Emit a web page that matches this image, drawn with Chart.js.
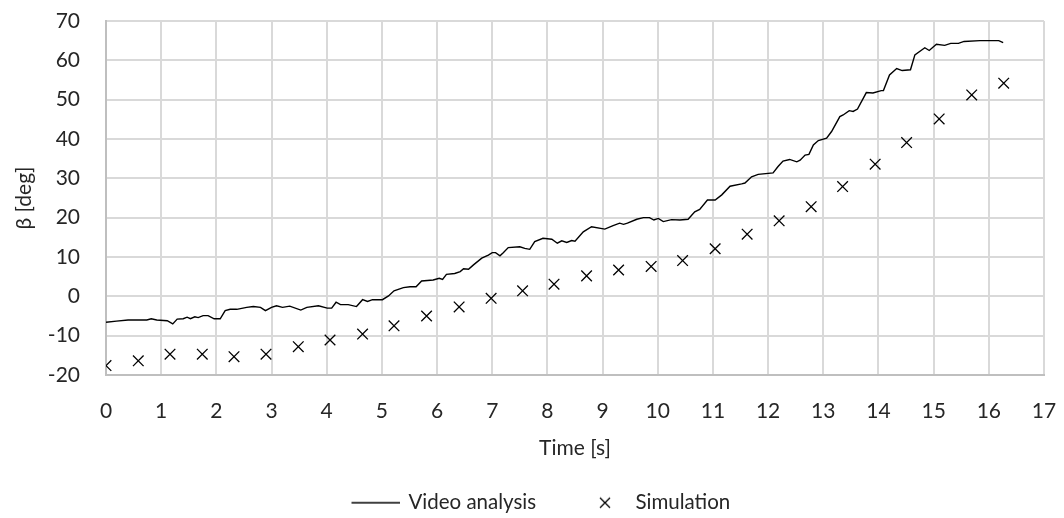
<!DOCTYPE html>
<html>
<head>
<meta charset="utf-8">
<script src="https://cdn.jsdelivr.net/npm/chart.js@4.4.1/dist/chart.umd.min.js"></script>
<style>
  html, body { margin: 0; padding: 0; background: #ffffff; }
  #wrap { width: 1064px; height: 518px; position: relative; }
</style>
</head>
<body>
<div id="wrap"><canvas id="chart" width="1064" height="518"></canvas></div>
<script>
// Measured pendulum angle from the video, time in seconds
const videoTime = [
  0, 0.19, 0.4, 0.74, 0.82, 0.92, 1.11, 1.21, 1.29, 1.4, 1.47, 1.53, 1.61, 1.67,
  1.76, 1.85, 1.96, 2.07, 2.16, 2.25, 2.37, 2.55, 2.67, 2.8, 2.89, 3.0, 3.09, 3.2,
  3.33, 3.53, 3.64, 3.85, 4.01, 4.09, 4.17, 4.25, 4.39, 4.54, 4.65, 4.74, 4.83,
  5.01, 5.12, 5.22, 5.39, 5.51, 5.62, 5.72, 5.93, 6.04, 6.1, 6.17, 6.32, 6.42,
  6.48, 6.57, 6.66, 6.81, 6.93, 7.0, 7.06, 7.14, 7.2, 7.29, 7.5, 7.59, 7.68, 7.77,
  7.92, 8.08, 8.18, 8.26, 8.35, 8.44, 8.5, 8.65, 8.8, 9.04, 9.19, 9.31, 9.38, 9.45,
  9.62, 9.74, 9.85, 9.93, 10.01, 10.1, 10.25, 10.4, 10.55, 10.67, 10.76, 10.9,
  11.04, 11.16, 11.31, 11.52, 11.58, 11.7, 11.82, 12.09, 12.18, 12.27, 12.39,
  12.52, 12.58, 12.67, 12.74, 12.82, 12.91, 13.06, 13.15, 13.3, 13.36, 13.47,
  13.54, 13.62, 13.78, 13.9, 14.05, 14.09, 14.2, 14.33, 14.43, 14.58, 14.66,
  14.84, 14.92, 15.05, 15.2, 15.31, 15.45, 15.55, 15.84, 16.08, 16.18, 16.26
];
const videoAngle = [
  -6.6, -6.3, -6.0, -6.0, -5.7, -6.0, -6.2, -7.0, -5.8, -5.7, -5.3, -5.7, -5.2, -5.4,
  -4.9, -4.9, -5.7, -5.7, -3.65, -3.3, -3.3, -2.8, -2.6, -2.8, -3.65, -2.8, -2.4, -2.8,
  -2.5, -3.5, -2.8, -2.4, -3.0, -3.0, -1.5, -2.1, -2.1, -2.6, -0.85, -1.3, -0.85,
  -0.85, 0.1, 1.4, 2.2, 2.45, 2.45, 3.9, 4.15, 4.6, 4.3, 5.6, 5.8, 6.3,
  7.0, 6.9, 8.0, 9.7, 10.5, 11.1, 11.1, 10.3, 11.1, 12.4, 12.6, 12.2, 11.95, 13.9,
  14.75, 14.5, 13.5, 14.1, 13.7, 14.2, 14.0, 16.4, 17.7, 17.1, 18.0, 18.6, 18.3, 18.6,
  19.6, 20.0, 20.0, 19.4, 19.8, 19.0, 19.5, 19.4, 19.6, 21.5, 22.1, 24.5,
  24.5, 25.8, 28.0, 28.6, 28.8, 30.4, 31.0, 31.4, 33.0, 34.4, 34.8,
  34.2, 34.6, 35.9, 36.1, 38.5, 39.6, 40.2, 41.9, 45.7, 46.1, 47.2,
  47.0, 47.6, 51.8, 51.7, 52.3, 52.3, 56.3, 57.9, 57.4, 57.6, 61.4,
  63.2, 62.5, 64.1, 63.8, 64.3, 64.3, 64.8, 65.0, 65.0, 65.0, 64.5
];

// Simulated angle at the sampled instants
const simTime = [
  0, 0.585, 1.16, 1.745, 2.32, 2.9, 3.485, 4.06, 4.65, 5.22, 5.81, 6.4, 6.98, 7.55,
  8.12, 8.71, 9.29, 9.88, 10.45, 11.04, 11.62, 12.2, 12.78, 13.35, 13.94, 14.51,
  15.1, 15.69, 16.27
];
const simAngle = [
  -17.6, -16.4, -14.7, -14.7, -15.35, -14.7, -12.8, -11.1, -9.6, -7.5, -5.0, -2.7,
  -0.5, 1.4, 3.1, 5.2, 6.7, 7.6, 9.1, 12.1, 15.8, 19.2, 22.8, 27.9, 33.6, 39.1,
  45.1, 51.2, 54.2
];

const seriesNames = ['Video analysis', 'Simulation'];
const xTitle = 'Time [s]';
const yTitle = 'β [deg]';

const FONT = 'Lato, "Open Sans", "Liberation Sans", sans-serif';
const TEXT = '#262626';
const GRID = '#d9d9d9';
const AXIS = '#bfbfbf';

// Legend symbols. Each image is centred in its legend slot, so the marks are
// drawn off-centre inside the image to sit where the slot layout wants them.
function lineSymbol() {
  const c = document.createElement('canvas');
  c.width = 69; c.height = 4;
  const g = c.getContext('2d');
  g.strokeStyle = '#000'; g.lineWidth = 1.4;
  g.beginPath(); g.moveTo(20, 2); g.lineTo(69, 2); g.stroke();
  return c;
}
function crossSymbol() {
  const c = document.createElement('canvas');
  c.width = 36; c.height = 14;
  const g = c.getContext('2d');
  g.strokeStyle = '#000'; g.lineWidth = 1.3;
  const cx = 30, cy = 7, h = 5;
  g.beginPath();
  g.moveTo(cx - h, cy - h); g.lineTo(cx + h, cy + h);
  g.moveTo(cx + h, cy - h); g.lineTo(cx - h, cy + h);
  g.stroke();
  return c;
}
const legendSymbols = [lineSymbol(), crossSymbol()];

const toPoints = (xs, ys) => xs.map((x, i) => ({ x: x, y: ys[i] }));

new Chart(document.getElementById('chart'), {
  type: 'scatter',
  data: {
    datasets: [
      {
        label: seriesNames[0],
        data: toPoints(videoTime, videoAngle),
        showLine: true,
        borderColor: '#000000',
        borderWidth: 1.4,
        pointRadius: 0,
        pointHoverRadius: 0,
        tension: 0,
        fill: false
      },
      {
        label: seriesNames[1],
        data: toPoints(simTime, simAngle),
        showLine: false,
        pointStyle: 'crossRot',
        pointRadius: 7.5,
        pointBorderWidth: 1.3,
        borderColor: '#000000',
        backgroundColor: '#000000'
      }
    ]
  },
  options: {
    responsive: false,
    animation: false,
    events: [],
    layout: { padding: { left: 0, right: 0, top: 21, bottom: -5 } },
    plugins: {
      tooltip: { enabled: false },
      legend: {
        position: 'bottom',
        labels: {
          font: { family: FONT, size: 20.5 },
          color: TEXT,
          usePointStyle: true,
          pointStyleWidth: 64.5,
          padding: 24.6,
          generateLabels(chart) {
            return chart.data.datasets.map((ds, i) => ({
              text: ds.label,
              pointStyle: legendSymbols[i],
              fillStyle: '#000',
              strokeStyle: '#000',
              lineWidth: 0,
              fontColor: TEXT,
              hidden: false,
              datasetIndex: i
            }));
          }
        }
      }
    },
    scales: {
      x: {
        type: 'linear',
        min: 0,
        max: 17,
        afterFit(scale) {
          scale.height = 92.9;
          scale.paddingRight = 20;
        },
        ticks: {
          stepSize: 1,
          padding: 0,
          color: TEXT,
          font: { family: FONT, size: 21 }
        },
        // invisible tick marks keep the labels clear of the axis
        grid: { color: GRID, lineWidth: 2, drawTicks: true, tickLength: 24, tickColor: 'rgba(0,0,0,0)' },
        border: { display: true, color: AXIS, width: 2 },
        title: {
          display: true,
          text: xTitle,
          color: TEXT,
          font: { family: FONT, size: 21 },
          padding: { top: 0, bottom: 7 }
        }
      },
      y: {
        type: 'linear',
        min: -20,
        max: 70,
        afterFit(scale) { scale.width = 106; },
        ticks: {
          stepSize: 10,
          padding: 0,
          color: TEXT,
          font: { family: FONT, size: 21 }
        },
        grid: { color: GRID, lineWidth: 2, drawTicks: true, tickLength: 26, tickColor: 'rgba(0,0,0,0)' },
        border: { display: true, color: AXIS, width: 2 },
        title: {
          display: true,
          text: yTitle,
          color: TEXT,
          font: { family: FONT, size: 21 },
          padding: { top: 12, bottom: 0 }
        }
      }
    }
  }
});
</script>
</body>
</html>
